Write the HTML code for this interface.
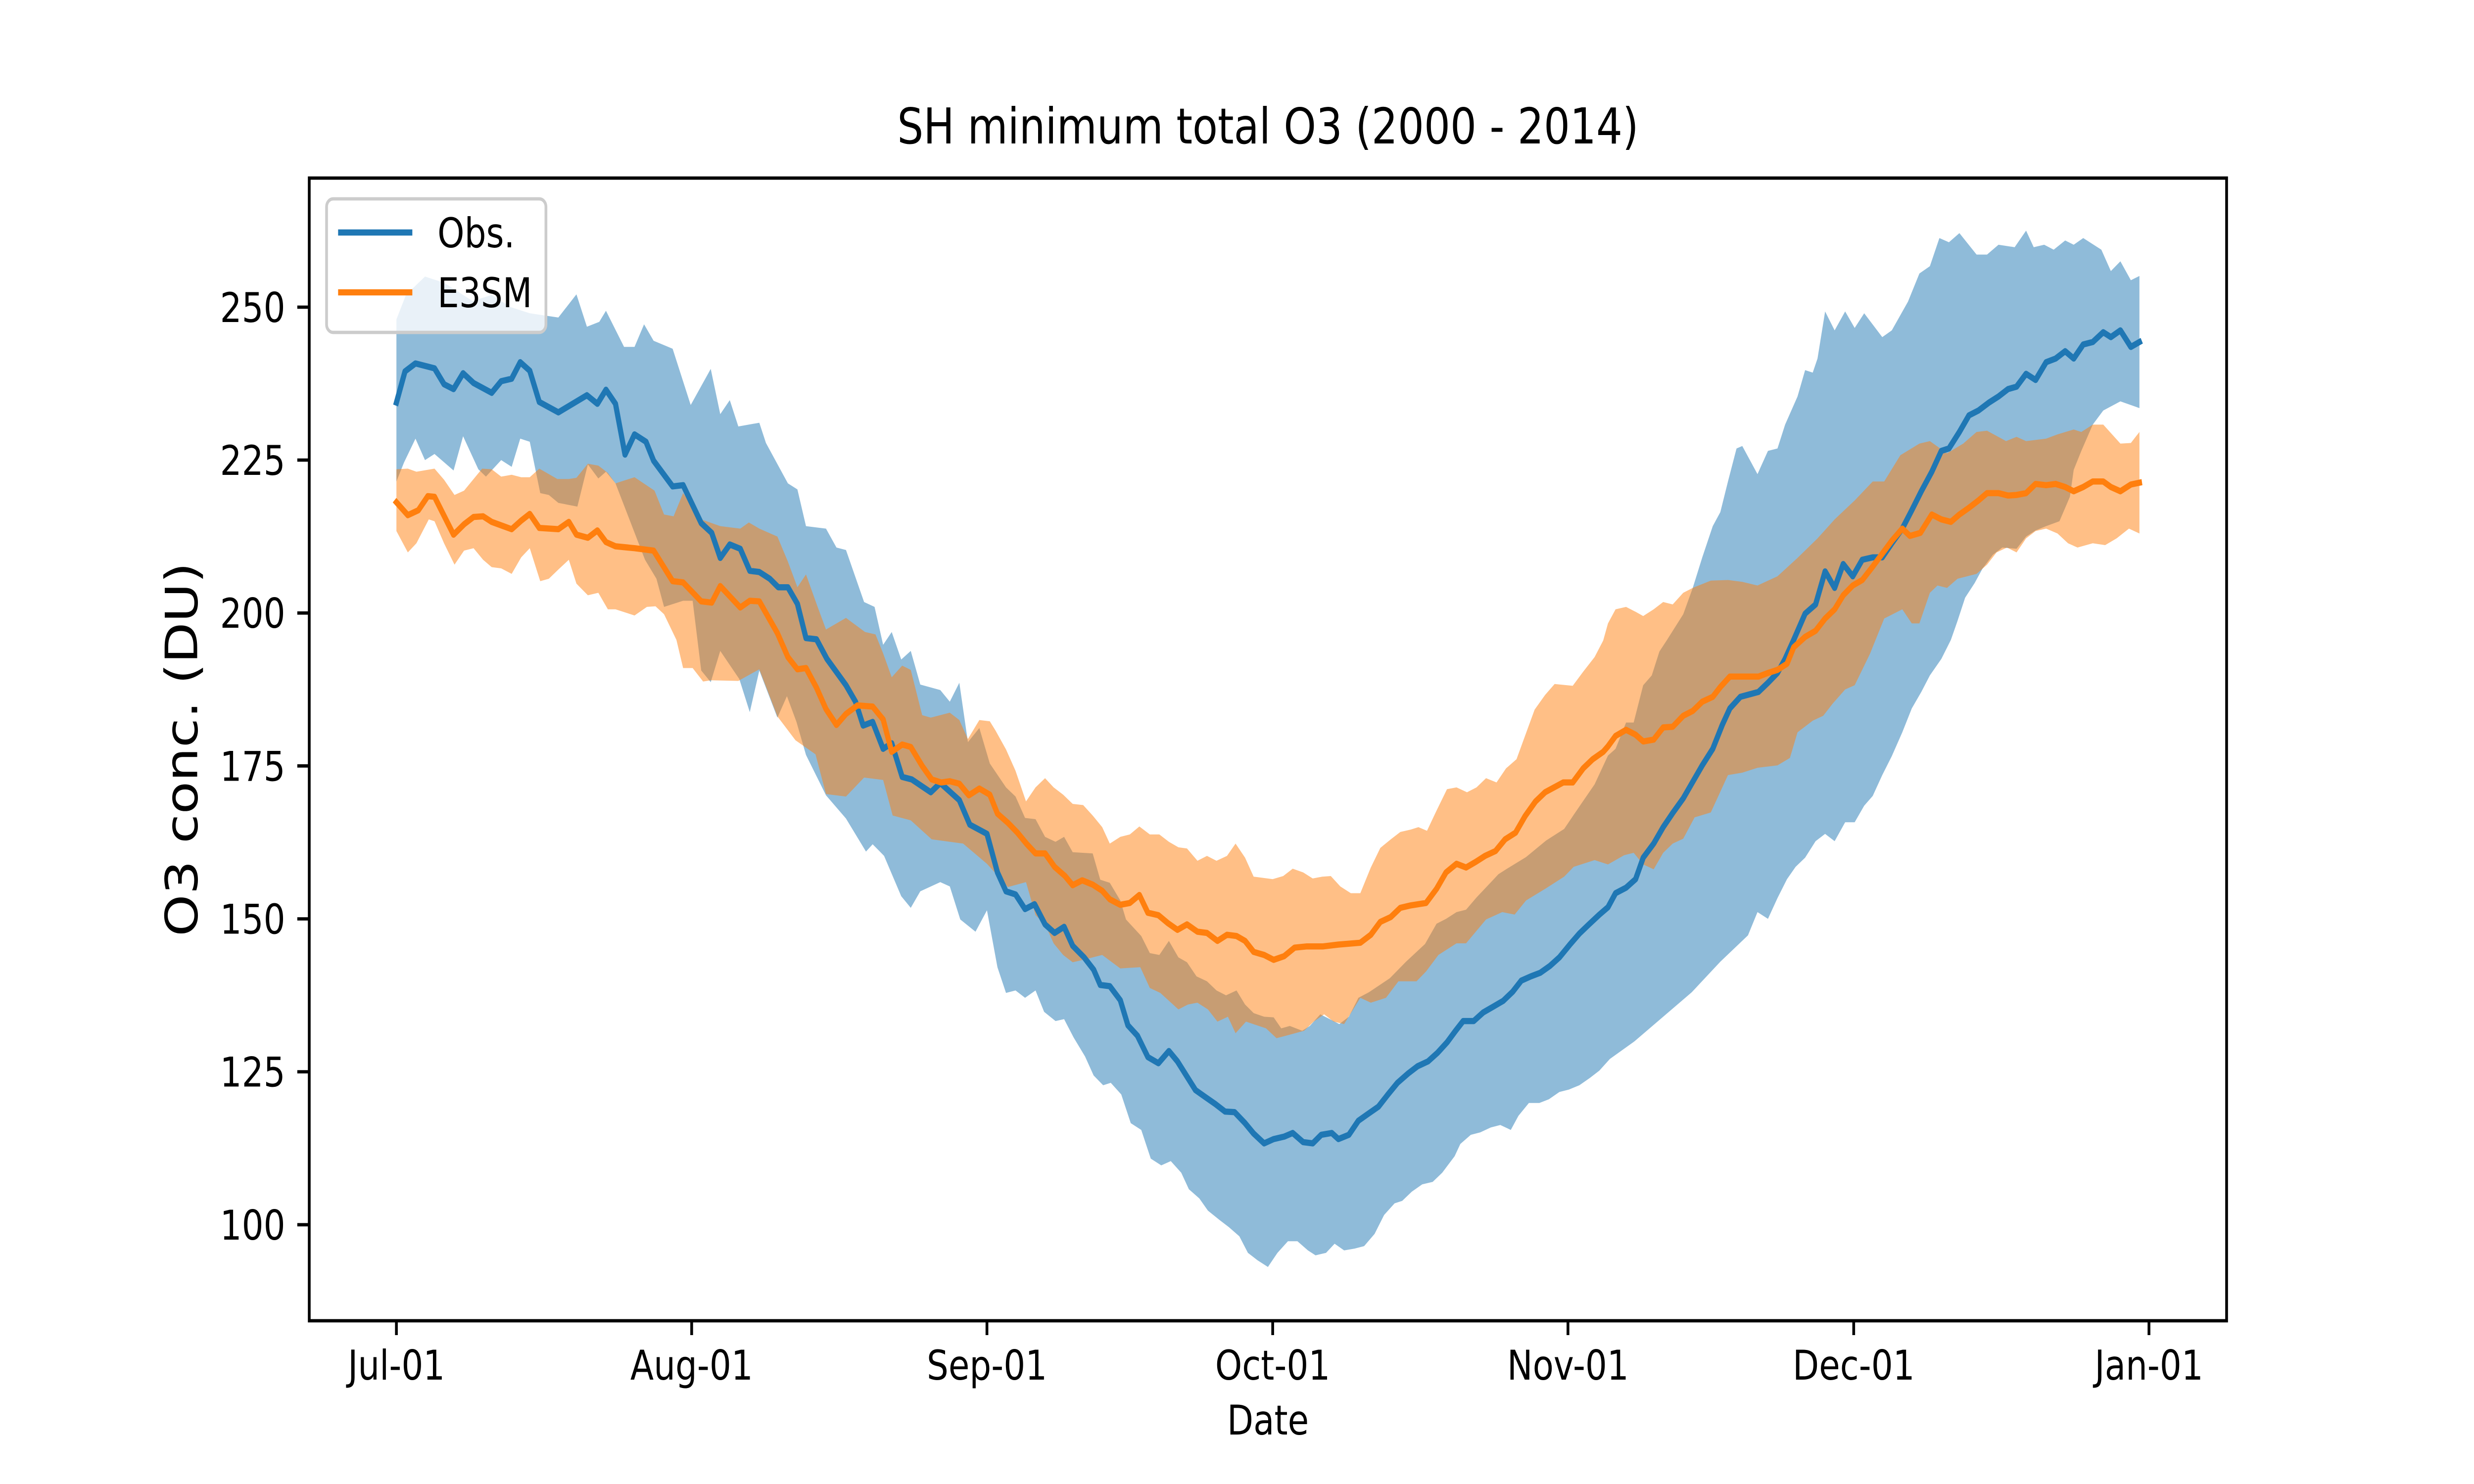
<!DOCTYPE html>
<html><head><meta charset="utf-8"><style>
html,body{margin:0;padding:0;background:#fff;width:100%;height:100%;overflow:hidden;}
svg{display:block;position:absolute;left:0;top:0;width:100vw;height:100vh;font-family:"DejaVu Sans","Liberation Sans",sans-serif;}
</style></head><body>
<svg id="chart" viewBox="0 0 6000 3000" preserveAspectRatio="none" xmlns="http://www.w3.org/2000/svg">
<rect width="6000" height="3000" fill="#fff"/>
<g id="plot"></g>
<text x="3075" y="290" font-size="100" text-anchor="middle">SH minimum total O3 (2000 - 2014)</text>
<text x="3075" y="2900" font-size="83" text-anchor="middle">Date</text>
<text x="0" y="0" font-size="108" text-anchor="middle" transform="translate(478,1515) rotate(-90)">O3 conc. (DU)</text>
<rect x="750" y="360" width="4650" height="2310" fill="none" stroke="#000" stroke-width="6.7"/>
<g>
<rect x="792" y="402" width="532" height="270" rx="16" fill="#fff" fill-opacity="0.8" stroke="#ccc" stroke-width="6.7"/>
<line x1="820" y1="470" x2="1000" y2="470" stroke="#1f77b4" stroke-width="12.5"/>
<text x="1061" y="500" font-size="83">Obs.</text>
<line x1="820" y1="591" x2="1000" y2="591" stroke="#ff7f0e" stroke-width="12.5"/>
<text x="1061" y="621" font-size="83">E3SM</text>
</g>
</svg>
<script>
const obsMeanDays=[0,0.9,2,4,5,6,7,8.1,10,11,12.1,13,14,15,17,20,21.1,22,23,24,25,26.2,27,29,30.1,32,33.1,34,35,36.1,37.1,38.1,39.2,40.1,41.1,42.1,43,44.1,45.2,47.2,48.2,49,50,51.1,52,53.1,54.1,56.1,57.1,58.1,59.1,60.2,62,63.1,64,65,66,67,68.1,69.1,70.1,71,72.2,73.2,73.9,74.9,76,76.8,77.8,78.9,80,81.1,82,83.9,84.9,86,87,88,89.1,90,91.1,92.1,93.2,94.1,95.2,96.2,97.1,98.2,98.9,100,101,102,103.1,104.1,105.1,106.2,107.2,108.3,109.3,110.3,111.2,112,113.1,114.1,115.1,116.2,117.2,118.1,119.1,120.1,121.1,122.1,123.2,124.2,125.2,126.3,127.2,128,129.1,130.1,130.9,132,133,134,135.1,136.1,137.1,138.2,139.2,140,141.1,143,144,145,145.8,146.7,147.9,149,150,151,151.9,152.9,153.9,155,156,157,158.1,159.1,160.1,161.2,162.2,163,164.1,165.1,166.1,167.2,168.2,169.2,170.1,171.1,172.1,173.2,174.2,175.2,176.1,177.1,178.1,179.2,180,181,182.1,183];
const obsMean=[234.4,239.5,240.8,240,237.4,236.6,239.2,237.6,236,237.9,238.3,241,239.6,234.5,232.8,235.6,234.2,236.5,234.2,225.9,229.2,228,224.9,220.7,220.9,214.7,213.1,209,211.2,210.5,206.9,206.7,205.6,204.2,204.2,201.5,195.9,195.7,192.5,188.2,185.5,181.6,182.2,177.8,178.7,173.2,172.8,170.7,172.2,170.8,169.4,165.4,163.9,157.6,154.5,154,151.6,152.4,149.1,147.7,148.7,145.6,143.7,141.7,139.2,139,136.7,132.6,130.9,127.4,126.4,128.4,126.7,122,120.9,119.7,118.5,118.4,116.6,114.9,113.3,114,114.4,115,113.5,113.3,114.7,115,114,114.7,117,118.1,119.3,121.3,123.2,124.7,125.9,126.7,128.1,129.8,131.7,133.3,133.3,134.7,135.6,136.6,138.1,139.9,140.6,141.2,142.3,143.7,145.8,147.6,149.1,150.7,151.9,154.2,155.1,156.5,160,162.3,165,167.3,169.7,172.4,175.1,177.8,181.7,184.4,186.3,187.1,188.6,190.2,192.5,195.6,199.9,201.4,206.8,204.1,208,206,208.7,209.1,209.1,211.4,213.8,216.8,219.9,223.1,226.5,226.9,229.6,232.3,233.1,234.4,235.4,236.6,237,239.1,238.1,241,241.6,242.8,241.6,243.9,244.3,245.9,245.1,246.2,243.5,244.3];

const e3smMeanDays=[0,1.2,2.3,3.3,4,5,6,7.1,8.1,9.1,10,12.1,13.1,14,15,17,18.1,18.9,20.1,21.1,22,23,25,27,29,30.1,32,33.1,34,36.1,37.1,38.1,40,41.1,42.1,43,44.1,45.1,46.2,47.2,48.4,50,51.1,52,53.1,54,55.2,56.2,57.2,58.1,59.1,60.1,61.2,62.3,63.1,64.2,65.2,66.2,67.1,68.1,69.1,70.2,71,72,73.1,74.1,74.9,76,77,78,78.9,80,81,82,83,84.1,85.1,86.2,87.2,88.2,89.1,90,91.1,92.1,93.2,94.3,95.6,97.3,98.9,101.2,102.3,103.3,104.4,105.4,106.5,108.1,109.2,110.2,111.3,112.3,113.3,114.3,115.4,116.4,117.5,118.5,119.6,120.6,122.5,123.5,124.6,125.6,126.7,127.2,128,129.1,130.1,130.9,132,133,134,135.1,136.1,137.1,138.2,139,140,143,144,145,146,146.7,147.9,149,150,151,151.9,152.9,153.9,155,156,157,158.1,158.9,160,161.2,162.2,163.2,164.1,165.1,166.1,167,168.2,169.2,170.1,171.1,172.1,173.2,174.2,175.2,176.1,177.1,178.1,179.2,180,181,182.1,183];
const e3smMean=[218.1,216,216.8,219.1,219,215.9,212.8,214.5,215.7,215.8,214.9,213.7,215.1,216.2,213.9,213.7,214.9,212.8,212.3,213.5,211.6,210.9,210.6,210.2,205.2,205,201.9,201.7,204.4,200.9,202,201.9,196.7,192.8,190.8,191,187.8,184.3,181.7,183.5,184.9,184.7,182.6,177.3,178.5,178.1,175,172.8,172.3,172.5,172.1,170.2,171.3,170.3,167.2,165.7,164.1,162.2,160.7,160.7,158.5,157,155.5,156.3,155.6,154.6,153.2,152.3,152.6,153.9,151,150.6,149.3,148.2,149.1,147.9,147.7,146.4,147.4,147.2,146.4,144.6,144.1,143.3,143.9,145.3,145.5,145.5,145.8,146.1,147.4,149.5,150.3,151.8,152.2,152.6,154.9,157.6,159,158.4,159.3,160.3,161.1,163,164.1,166.8,169.2,170.7,172.3,172.3,174.6,176.1,177.3,178.2,179.9,180.9,180.1,179,179.3,181.3,181.4,183.2,184,185.5,186.3,187.9,189.6,189.6,190.2,190.7,191.7,194.4,196.1,197.1,199.1,200.6,202.9,204.5,205.4,207.6,209.7,211.8,213.8,212.6,213.1,216.1,215.3,214.9,216.1,217.2,218.4,219.6,219.6,219.2,219.3,219.6,221.1,220.9,221.1,220.6,219.9,220.6,221.5,221.5,220.6,219.9,221,221.3];

const obsUpperDays=[0,1,3,5,8,10,12,14,17,18.9,20,21.3,22,23.9,25,26,27,29,30.9,33,34,35,35.9,38.1,38.8,41.1,42.1,43,45.1,46.2,47.2,49.1,50.2,51.1,52,53,54,55,57.1,58.1,59.1,60,61.2,62.3,64,65,66,67.1,68.1,69.2,70.1,71,73.1,73.9,74.9,76,76.6,78.2,79.1,80.1,81.1,82.1,83,84,85.1,86.1,87.1,88.2,89.1,90,91.1,92.1,92.9,93.8,95.1,95.9,97,98,99,100,101,102.1,104.3,106,108,109.2,110.2,111.3,112.3,113.4,114.8,115.7,116.5,118.6,120.7,122.6,123.6,125.8,127.2,128,129.1,129.9,130.9,131.8,132.6,133.4,135.1,136.1,137.1,138.2,139,139.8,140.7,141.3,142.9,144,145,145.8,147.1,147.9,148.7,149.2,150,151,152.1,153.1,154.1,156,157,158.7,159.9,161,162,163,164.1,165.9,167,168.2,169.9,171.1,171.9,173,174,175.2,176.1,177.1,179,180,181,182.1,183];
const obsUpper=[248,252,255,254,251,252,250,249,248.3,252.1,246.8,247.6,249.4,243.5,243.5,247.2,244.5,243.2,234,239.9,232.5,234.8,230.5,231.1,227.8,221.2,220.2,214.2,213.8,210.7,210.3,201.8,201,194.8,196.9,192.4,193.8,188.3,187.4,185.5,188.6,178.9,181.2,175.4,171.5,170,166.5,166.3,163.4,162.6,163.4,160.9,160.7,156.4,155.9,153,149.9,147.2,144.4,144.1,146.4,143.7,142.9,140.6,139.8,138.3,137.5,138.3,136,134.6,134,133.9,132.1,132.5,131.7,132.5,134.4,133.6,132.8,134,137.1,138,140.3,143,145.9,149.2,150,151.1,151.5,153.5,155.8,157.3,158.1,160.1,162.8,164.7,167,172,176.7,177.8,182.1,182.1,188.2,189.8,193.7,195.6,199.8,204.1,209.1,214.2,216.5,221.5,226.9,227.3,222.7,226.5,226.9,230.8,235.4,239.7,239.3,241.6,249.3,246.2,249.3,246.6,249,245.1,246.2,250.9,255.5,256.7,261.3,260.6,262.1,258.6,258.6,260.2,259.8,262.5,259.8,260.2,259.4,260.9,260.2,261.3,259.4,255.9,257.5,254.4,255.1];

const obsLowerDays=[0,0.8,2,3,4,6,7,8.6,9.4,11,12.1,13,14,15.1,16,17,19,20.1,21.2,22,23,26.1,27.3,28.1,30.1,31.1,32,33,34,36,37.1,38.1,40,41,42,43,45.1,47.2,49.3,50,51.2,53,54,55,57.1,58.1,59.2,60.8,62,63.1,64,65,66,67.1,68,69.2,70.1,71.1,72.3,73.2,74.2,75,76.1,77.1,78.2,79.2,80.3,81.3,82.4,83.2,84.3,85.2,86.4,87.4,88.5,89.4,90.4,91.5,92.5,93.6,94.6,95.7,96.5,97.6,98.5,99.5,100.6,101.6,102.7,103.7,104.8,105.6,106.6,107.7,108.8,109.8,111.1,111.7,112.8,113.8,114.9,115.9,117,117.8,118.9,120,121,122.1,123.1,124.2,125.3,126.3,127.4,130,133,136,139,141.9,142.9,144,145,146,146.9,147.9,149,150,151,152.1,153.1,154.1,155,156,157,158.1,159.1,160.1,161,162.2,163.2,163.9,164.7,165.7,166.5,167.6,168.6,170.1,171.1,172.1,173.2,174.6,175.7,176.1,176.9,178.1,179.2,181,183];
const obsLower=[221.5,224.6,228.5,225,226,223.3,228.9,223.5,222.3,225,223.9,228.5,228,219.6,219.3,218,217.4,224.3,222,223.1,221.2,208.7,205.6,201,202,202,190.6,188.7,193.8,189.2,183.8,190.6,182.9,186.4,182.2,176.8,170.2,166.4,161,162.2,160.3,153.7,151.8,154.5,156,155.3,149.9,147.9,151.4,142.1,137.9,138.3,137.1,138.3,134.8,133.3,133.6,130.6,127.5,124.4,122.8,123.2,121.3,116.6,115.5,110.8,109.7,110.4,108.5,105.8,104.3,102.3,100.8,99.6,98.1,95.4,94.2,93.1,95.4,97.3,97.3,95.8,95,95.4,96.9,95.8,96.1,96.5,98.5,101.6,103.5,103.9,105.4,106.6,107,108.5,111.2,113.2,114.7,115.1,115.9,116.3,115.5,117.8,119.9,119.9,120.5,121.7,122.1,122.8,124,125.2,127.1,130,134,138,143,147.3,151.1,150,153.4,156.5,158.5,160,162.7,163.9,162.7,165.8,165.8,168.5,170.1,173.5,176.6,180.5,184.4,187.1,189.8,192.5,195.6,198.7,202.5,204.9,207.2,209.5,210.7,210.5,212.5,213.5,214.2,215,219,223.4,226.5,230.8,233.1,234.6,233.5];

const e3smUpperDays=[0,1.2,2.1,4,5,6.1,7.1,9,10,11,12.1,13.1,14,15,16.9,18.1,18.9,20.1,21.2,22.2,23,25,27.1,28.1,29.1,30.1,32,34,36.1,37,38.1,40,41.1,42.1,43,44.2,45.1,47.2,49.2,50.3,51.1,52,53.1,54,55.2,56.1,57.1,58.1,59.1,60,61.2,62.3,62.9,64,65,66.1,67.1,68.1,69,70,71,72.1,73.1,74.1,74.9,76,77,78,79.1,80.1,81.1,82.1,83,84.1,85.1,86.1,87.2,88.1,89.1,90,92,93.1,94.1,95.2,96.2,97.2,98.1,99.1,100.2,101.2,102.3,103.3,104.4,105.4,106.5,107.3,108.2,109.2,110.3,111.3,112.4,113.4,114.4,115.5,116.5,117.6,118.7,119.5,120.6,121.6,123.5,124.6,125.8,126.7,127.2,128,129.1,130.1,130.9,132,133,134,135.1,136.1,138,139.8,141.3,142.9,145,147.1,149.2,151,153.1,155,156.2,157.9,159.9,161,162.8,164.5,165.9,167,169,170.1,171.1,173.2,174.4,176.1,176.9,178.1,179.2,181,182.1,183];
const e3smUpper=[223.5,223.6,223.1,223.6,221.8,219.3,220,223.6,223.5,222.3,222.6,222.2,222.2,223.6,221.9,221.9,222.1,224.4,224.1,222.9,221.2,222.2,220,216.1,215.8,219.6,215.3,214.2,213.8,214.8,213.8,212.5,208.4,204.2,206.3,201.1,197.3,199.2,196.9,196.5,193.4,189.5,191.4,190.7,183.3,182.9,183.3,183.7,182.5,179.4,182.5,182.3,180.8,177.7,174.2,169.2,171.5,173,171.5,170.3,168.8,168.6,166.9,165,162.3,163.4,163.8,165.1,163.8,163.8,162.6,161.7,161.5,159.5,160.3,159.5,160.3,162.3,160,156.9,156.5,157,158.2,157.6,156.6,156.9,157,155.3,154.2,154.2,158.4,161.6,163,164.2,164.6,165,164.4,167.7,171.2,171.5,170.7,171.5,173,172.3,174.6,176.1,180.8,184.2,186.6,188.4,188.1,190.4,192.8,195.5,198.3,200.6,201,200.2,199.5,200.6,201.8,201.4,203.3,204.1,205.3,205.4,205.1,204.5,206,209,212.2,215.3,218.4,221.5,221.5,225.8,227.7,228.1,226.1,227.7,229.6,229.8,228.1,228.8,228.1,228.5,229.2,230,229.6,230.8,230.8,227.7,227.8,229.6];

const e3smLowerDays=[0,1.2,2.1,3.4,4,5,6.1,7.1,8.1,9.1,10,11,12.1,13.1,14,15.1,16,17,18.1,18.9,20.1,21.2,22.2,23,25,26.3,27.2,28.1,29.4,30.1,31.1,32.2,33,35.9,38.1,40,41.9,44,45.1,47.2,49.1,51.1,52.1,54,56.2,59.5,62,64.2,66.1,67.1,68.1,69,70,71,72.1,74.1,76,78.1,79.1,80.2,82.1,83.1,84.1,85.2,86.2,87.3,88.1,89.2,91.3,92.4,93.4,95.3,96.3,97.4,98.4,99.5,101.2,102.3,103.9,105.2,107.1,108.1,109.4,111.3,112.3,114.4,116.1,117.4,118.6,120.7,122.6,123.6,125.8,127.2,128.9,129.9,130.9,132,133,134,135.1,136.3,138,139.8,141.3,142.9,145,146.3,147.1,148.7,149.8,150.8,152.1,153.1,154.7,156.2,158.1,159.1,159.9,161,161.8,162.8,163.9,165.9,167,168,169.1,170.1,171.1,172.1,173.2,174.4,175.5,176.5,178.1,179.4,180.6,181.9,183];
const e3smLower=[213.4,209.9,211.4,215.3,215,211.4,207.9,210.2,210.6,208.7,207.5,207.3,206.4,209.1,210.6,205.2,205.6,207.1,208.7,204.8,202.9,203.3,200.6,200.6,199.6,201,201.1,199.8,195.6,191,191,188.8,189,188.9,190.8,183.1,179.2,176.9,170.4,170,173.1,172.7,166.9,166.1,163,162.3,159,155.2,156,150.6,149.1,146,144.1,142.9,143.3,144.1,141.9,142.1,138.7,137.9,135.2,136,136.3,135.2,133.2,134,131.3,133.2,132.1,130.5,130.9,131.7,133.2,134.4,133.2,132.8,137.1,136.3,137.1,139.8,139.8,141.4,144.1,146,146,149.9,151.1,150.7,153,155,156.9,158.5,159.6,158.9,160.4,160.8,158.9,158.1,160.8,162.3,163.1,166.6,167.4,173.5,173.9,174.7,175.1,176.3,180.5,182.4,183.2,185.2,187.5,188.2,193.3,199.1,200.6,198.3,198.3,203.3,204.5,204.1,205.6,206.4,207.9,209.9,210.7,209.9,212.2,213.4,213.8,213,211.4,210.7,211.4,211.1,212.2,213.8,213];

const xTickDays=[0,31,62,92,123,153,184];
const xTickLabels=["Jul-01","Aug-01","Sep-01","Oct-01","Nov-01","Dec-01","Jan-01"];
const yTickValues=[100,125,150,175,200,225,250];

const X0=750,X1=5400,Y0=360,Y1=2670;
const XMIN=-9.15,XMAX=192.15,YMIN=84.3,YMAX=271.1;
function sx(d){return X0+(d-XMIN)/(XMAX-XMIN)*(X1-X0);}
function sy(v){return Y1-(v-YMIN)/(YMAX-YMIN)*(Y1-Y0);}
const NS="http://www.w3.org/2000/svg";
const plot=document.getElementById('plot');
function mk(tag,attrs){const e=document.createElementNS(NS,tag);for(const k in attrs)e.setAttribute(k,attrs[k]);return e;}
function band(ud,up,ld,lo,color){
  let d='M'+ud.map((t,i)=>sx(t).toFixed(1)+','+sy(up[i]).toFixed(1)).join('L');
  for(let i=ld.length-1;i>=0;i--)d+='L'+sx(ld[i]).toFixed(1)+','+sy(lo[i]).toFixed(1);
  const p=mk('path',{d:d+'Z',fill:color,'fill-opacity':0.5});
  plot.appendChild(p);
  return p;
}
function line(days,vals,color){
  const d='M'+days.map((t,i)=>sx(t).toFixed(1)+','+sy(vals[i]).toFixed(1)).join('L');
  const p=mk('path',{d:d,fill:'none',stroke:color,'stroke-width':12.5,'stroke-linejoin':'round','stroke-linecap':'square'});
  plot.appendChild(p);
  return p;
}
const ob=band(obsUpperDays,obsUpper,obsLowerDays,obsLower,'#1f77b4');


const eb=band(e3smUpperDays,e3smUpper,e3smLowerDays,e3smLower,'#ff7f0e');


const ol=line(obsMeanDays,obsMean,'#1f77b4');


const el=line(e3smMeanDays,e3smMean,'#ff7f0e');


xTickDays.forEach((t,i)=>{
  const x=sx(t);
  const tk=mk('line',{x1:x,y1:Y1,x2:x,y2:Y1+29,stroke:'#000','stroke-width':6.7});
  
  
  plot.appendChild(tk);
  const tx=mk('text',{x:x,y:2789,'font-size':83,'text-anchor':'middle'});
  tx.textContent=xTickLabels[i];
  
  
  plot.appendChild(tx);
});
yTickValues.forEach(v=>{
  const y=sy(v);
  const tk=mk('line',{x1:X0-29,y1:y,x2:X0,y2:y,stroke:'#000','stroke-width':6.7});
  
  
  plot.appendChild(tk);
  const tx=mk('text',{x:692,y:y+30,'font-size':83,'text-anchor':'end'});
  tx.textContent=String(v);
  
  
  plot.appendChild(tx);
});
</script>
</body></html>
